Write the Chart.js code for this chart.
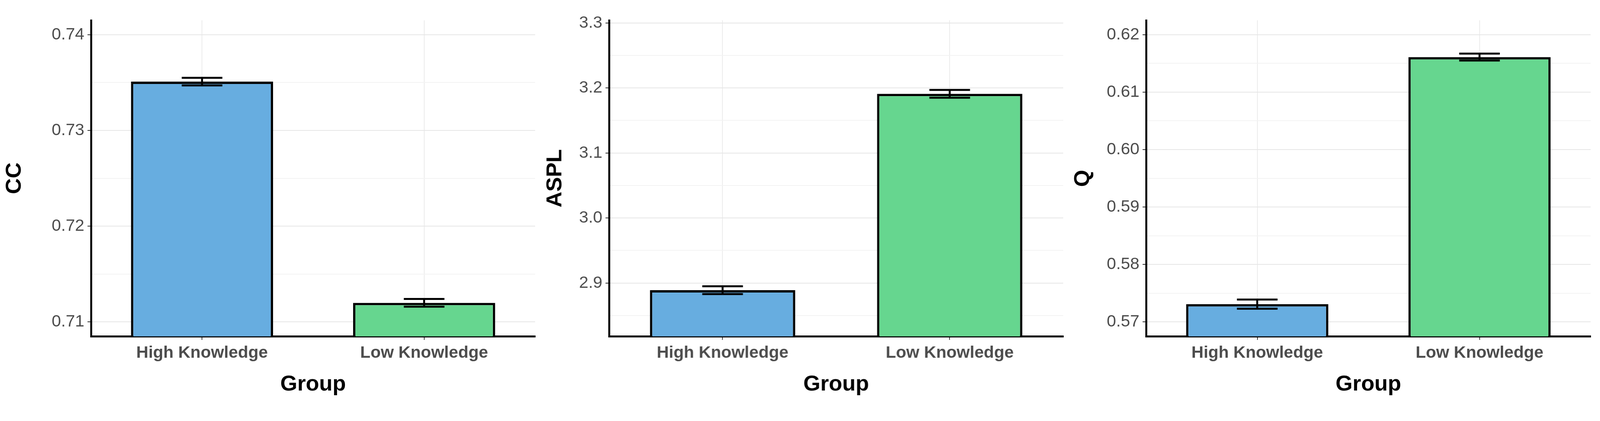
<!DOCTYPE html>
<html>
<head>
<meta charset="utf-8">
<script src="https://cdn.jsdelivr.net/npm/chart.js@4.4.1/dist/chart.umd.min.js"></script>
<style>
  html, body { margin: 0; background: #fff; overflow: hidden; width: 100%; height: 100%; }
  .panel { position: absolute; top: 0; height: 100%; }
</style>
</head>
<body>
<div class="panel" style="left:0%;width:33.79%"><canvas id="c1"></canvas></div>
<div class="panel" style="left:33.79%;width:32.98%"><canvas id="c2"></canvas></div>
<div class="panel" style="left:66.77%;width:33.23%"><canvas id="c3"></canvas></div>
<script>
const groups = ['High Knowledge', 'Low Knowledge']
const barColors = ['rgba(103,173,224,1)', 'rgba(102,214,143,1)']

const ccValues = [0.7351, 0.7120]
const ccErrors = [0.0004, 0.0004]
const ccMajorTicks = [0.71, 0.72, 0.73, 0.74]
const ccMinorTicks = [0.715, 0.725, 0.735]

const asplValues = [2.889, 3.191]
const asplErrors = [0.006, 0.006]
const asplMajorTicks = [2.9, 3.0, 3.1, 3.2, 3.3]
const asplMinorTicks = [2.85, 2.95, 3.05, 3.15, 3.25]

const qValues = [0.5731, 0.6161]
const qErrors = [0.0008, 0.0006]
const qMajorTicks = [0.57, 0.58, 0.59, 0.60, 0.61, 0.62]
const qMinorTicks = [0.575, 0.585, 0.595, 0.605, 0.615]

// scale factor in case the window is not exactly 4351 wide
const k = window.innerWidth / 4351
const px = v => Math.round(v * k)

// error bars drawn with the y scale
const errorBars = {
  id: 'errorBars',
  afterDatasetsDraw(chart, args, opts) {
    const ctx = chart.ctx
    const meta = chart.getDatasetMeta(0)
    const ys = chart.scales.y
    ctx.save()
    ctx.strokeStyle = '#000'
    ctx.lineWidth = px(5)
    meta.data.forEach((bar, i) => {
      const v = chart.data.datasets[0].data[i]
      const e = opts.errors[i]
      const top = ys.getPixelForValue(v + e)
      const bot = ys.getPixelForValue(v - e)
      const w = px(55)
      ctx.beginPath()
      ctx.moveTo(bar.x, top); ctx.lineTo(bar.x, bot)
      ctx.moveTo(bar.x - w, top); ctx.lineTo(bar.x + w, top)
      ctx.moveTo(bar.x - w, bot); ctx.lineTo(bar.x + w, bot)
      ctx.stroke()
    })
    ctx.restore()
  }
}

function makeChart(id, title, values, errors, major, minor, min, max, axisWidth, digits, rightPad) {
  const all = major.concat(minor).sort((a, b) => a - b)
  const isMajor = v => major.some(m => Math.abs(m - v) < 1e-9)
  new Chart(document.getElementById(id), {
    type: 'bar',
    data: {
      labels: groups,
      datasets: [{
        data: values,
        backgroundColor: barColors,
        borderColor: '#000',
        borderWidth: px(6),
        borderSkipped: false,
        barPercentage: 0.64,
        categoryPercentage: 1.0
      }]
    },
    plugins: [errorBars],
    options: {
      responsive: true,
      maintainAspectRatio: false,
      animation: false,
      layout: { padding: { top: px(55), right: px(rightPad), bottom: px(60) } },
      plugins: {
        legend: { display: false },
        tooltip: { enabled: false },
        errorBars: { errors }
      },
      scales: {
        x: {
          grid: { offset: false, color: '#ebebeb', lineWidth: px(2), tickLength: px(10), tickColor: '#333' },
          border: { color: '#000', width: px(5) },
          ticks: { color: '#4d4d4d', font: { family: 'Liberation Sans, Arial', size: px(46), weight: 'bold' }, padding: px(8) },
          title: { display: true, text: 'Group', color: '#000', font: { family: 'Liberation Sans, Arial', size: px(60), weight: 'bold' }, padding: { top: px(14) } }
        },
        y: {
          min, max,
          afterBuildTicks: s => { s.ticks = all.map(v => ({ value: v })) },
          afterFit: s => { s.width = px(axisWidth) },
          grid: {
            color: c => isMajor(c.tick.value) ? '#e6e6e6' : '#f3f3f3',
            tickColor: c => isMajor(c.tick.value) ? '#333' : 'rgba(0,0,0,0)',
            lineWidth: px(2), tickLength: px(10)
          },
          border: { color: '#000', width: px(5) },
          ticks: {
            color: '#4d4d4d',
            font: { family: 'Liberation Sans, Arial', size: px(46) },
            padding: px(8),
            autoSkip: false,
            callback: v => isMajor(v) ? v.toFixed(digits) : ''
          },
          title: { display: true, text: title, color: '#000', font: { family: 'Liberation Sans, Arial', size: px(60), weight: 'bold' }, padding: { bottom: px(30) } }
        }
      }
    }
  })
}

makeChart('c1', 'CC', ccValues, ccErrors, ccMajorTicks, ccMinorTicks, 0.7085, 0.7415, 247, 2, 15)
makeChart('c2', 'ASPL', asplValues, asplErrors, asplMajorTicks, asplMinorTicks, 2.818, 3.304, 186, 1, 15)
makeChart('c3', 'Q', qValues, qErrors, qMajorTicks, qMinorTicks, 0.5675, 0.6225, 211, 2, 25)
</script>
</body>
</html>
